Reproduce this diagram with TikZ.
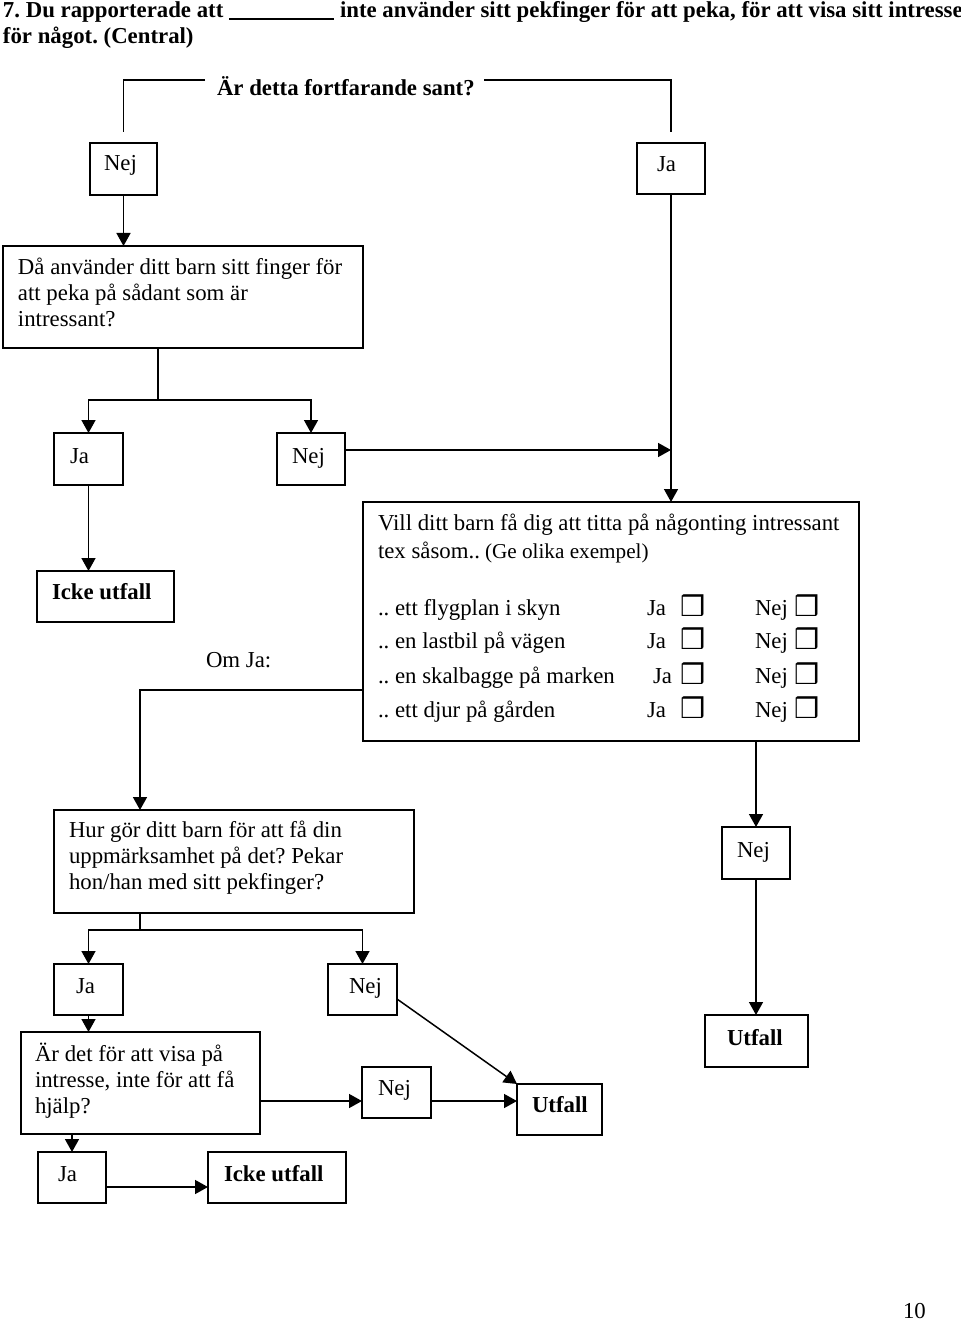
\documentclass[tikz,border=0pt]{standalone}
\usepackage{fontspec}
\setmainfont{Liberation Serif}
\newfontfamily\symfont{DejaVu Sans}
\usetikzlibrary{arrows.meta,fit,calc}
\frenchspacing
\tikzset{
  every node/.style={font=\fontsize{11.4}{13.25}\selectfont, inner sep=0pt, outer sep=0pt},
  box/.style={draw, line width=0.75pt, inner sep=0pt, outer sep=0pt},
  txt/.style={anchor=base west},
  bold/.style={font=\fontsize{11.4}{13.25}\selectfont\bfseries},
  small/.style={font=\fontsize{10.6}{13.25}\selectfont},
  chk/.style={anchor=base west, font=\fontsize{14}{14}\symfont},
  arr/.style={-{Triangle[width=7pt,length=6.5pt]}}
}
\newcommand\tline[4]{\node[txt] (#1) at (#2,#3) {#4};}
\newcommand\bx[5]{\node[box, fit={(#2,#3)(#4,#5)}] (#1) {};}
\begin{document}
\begin{tikzpicture}[x=0.5pt,y=-0.5pt,line width=0.75pt]
\useasboundingbox (0,0) rectangle (960,1321);

% title
\node[txt,bold] (ti1) at (3,18) {7. Du rapporterade att};
\coordinate (ul1) at (229,19);
\coordinate (ul2) at (334,19);
\draw (ul1) -- (ul2);
\node[txt,bold] (ti2) at (340,18) {inte använder sitt pekfinger för att peka, för att visa sitt intresse};
\node[txt,bold] (ti3) at (3,44) {för något. (Central)};

% question 0
\node[txt,bold] (q0) at (217,96) {Är detta fortfarande sant?};

% boxes
\bx{n1}{90}{143}{157}{195}
\bx{ja1}{637}{143}{705}{194}
\bx{q1}{3}{246}{363}{348}
\bx{ja2}{54}{433}{123}{485}
\bx{nej2}{277}{433}{345}{485}
\bx{q2}{363}{502}{859}{741}
\bx{icke1}{37}{571}{174}{622}
\bx{q3}{54}{810}{414}{913}
\bx{nej3}{722}{827}{790}{879}
\bx{ja3}{54}{964}{123}{1015}
\bx{nej4}{328}{964}{397}{1015}
\bx{utf2}{705}{1015}{808}{1067}
\bx{q4}{21}{1032}{260}{1134}
\bx{nej5}{362}{1067}{431}{1118}
\bx{utf1}{517}{1084}{602}{1135}
\bx{ja4}{38}{1152}{106}{1203}
\bx{icke2}{208}{1152}{346}{1203}

% texts
\tline{tn1}{104}{171}{Nej}
\tline{tja1}{657}{172}{Ja}
\tline{tq1a}{18}{274}{Då använder ditt barn sitt finger för}
\tline{tq1b}{18}{300}{att peka på sådant som är}
\tline{tq1c}{18}{326}{intressant?}
\tline{tja2}{70}{463}{Ja}
\tline{tnej2}{292}{463}{Nej}
\tline{tq2a}{378}{530}{Vill ditt barn få dig att titta på någonting intressant}
\tline{tq2b}{378}{558}{tex såsom..}
\node[txt,small] (tq2c) at (485,558) {(Ge olika exempel)};
\tline{i1}{378}{615}{.. ett flygplan i skyn}
\tline{i2}{378}{648}{.. en lastbil på vägen}
\tline{i3}{378}{683}{.. en skalbagge på marken}
\tline{i4}{378}{717}{.. ett djur på gården}
\tline{i1j}{647}{615}{Ja}
\tline{i2j}{647}{648}{Ja}
\tline{i3j}{653}{683}{Ja}
\tline{i4j}{647}{717}{Ja}
\tline{i1n}{755}{615}{Nej}
\tline{i2n}{755}{648}{Nej}
\tline{i3n}{755}{683}{Nej}
\tline{i4n}{755}{717}{Nej}
\node[chk] (c1j) at (680,616) {❒};
\node[chk] (c2j) at (680,649) {❒};
\node[chk] (c3j) at (680,684) {❒};
\node[chk] (c4j) at (680,718) {❒};
\node[chk] (c1n) at (794,616) {❒};
\node[chk] (c2n) at (794,649) {❒};
\node[chk] (c3n) at (794,684) {❒};
\node[chk] (c4n) at (794,718) {❒};
\node[txt,bold] (ticke1) at (52,599) {Icke utfall};
\tline{omja}{206}{667}{Om Ja:}
\tline{tq3a}{69}{837}{Hur gör ditt barn för att få din}
\tline{tq3b}{69}{863}{uppmärksamhet på det? Pekar}
\tline{tq3c}{69}{889}{hon/han med sitt pekfinger?}
\tline{tnej3}{737}{857}{Nej}
\node[txt,bold] (tutf2) at (727,1045) {Utfall};
\tline{tja3}{76}{993}{Ja}
\tline{tnej4}{349}{993}{Nej}
\tline{tq4a}{35}{1061}{Är det för att visa på}
\tline{tq4b}{35}{1087}{intresse, inte för att få}
\tline{tq4c}{35}{1113}{hjälp?}
\tline{tnej5}{378}{1095}{Nej}
\node[txt,bold] (tutf1) at (532,1112) {Utfall};
\tline{tja4}{58}{1181}{Ja}
\node[txt,bold] (ticke2) at (224,1181) {Icke utfall};
\tline{pg}{903}{1318}{10}

% connectors
\draw ($(q0.base west)+(-12,-16)$) -| ($(n1.north)+(0,-11)$);
\draw ($(q0.base west)+(267,-16)$) -| ($(ja1.north)+(0,-11)$);
\draw[arr] (n1.south) -- (n1.south |- q1.north);
\draw[arr] (ja1.south) -- (ja1.south |- q2.north);
\coordinate (j1) at ($(q1.south west)+(155,52)$);
\draw ($(q1.south west)+(155,0)$) -- (j1);
\draw[arr] (j1) -| (ja2.north);
\draw[arr] (j1) -| (nej2.north);
\coordinate (p1) at ($(nej2.north east)+(0,17)$);
\draw[arr] (p1) -- (p1 -| ja1.south);
\draw[arr] (ja2.south) -- (ja2.south |- icke1.north);
\draw[arr] ($(q2.south west)+(0,-51)$) -| ($(q3.north west)+(86,0)$);
\draw[arr] (nej3.north |- q2.south) -- (nej3.north);
\draw[arr] (nej3.south) -- (nej3.south |- utf2.north);
\coordinate (j2) at ($(q3.south west)+(86,17)$);
\draw ($(q3.south west)+(86,0)$) -- (j2);
\draw[arr] (j2) -| (ja3.north);
\draw[arr] (j2) -| (nej4.north);
\draw[arr] (ja3.south) -- (ja3.south |- q4.north);
\coordinate (p2) at ($(q4.north east)+(0,69)$);
\draw[arr] (p2) -- (p2 -| nej5.west);
\draw[arr] (p2 -| nej5.east) -- (p2 -| utf1.west);
\draw[arr] ($(nej4.south east)+(0,-16)$) -- (utf1.north west);
\draw[arr] (ja4.north |- q4.south) -- (ja4.north);
\coordinate (p3) at ($(ja4.south east)+(0,-16)$);
\draw[arr] (p3) -- (p3 -| icke2.west);
\end{tikzpicture}
\end{document}
